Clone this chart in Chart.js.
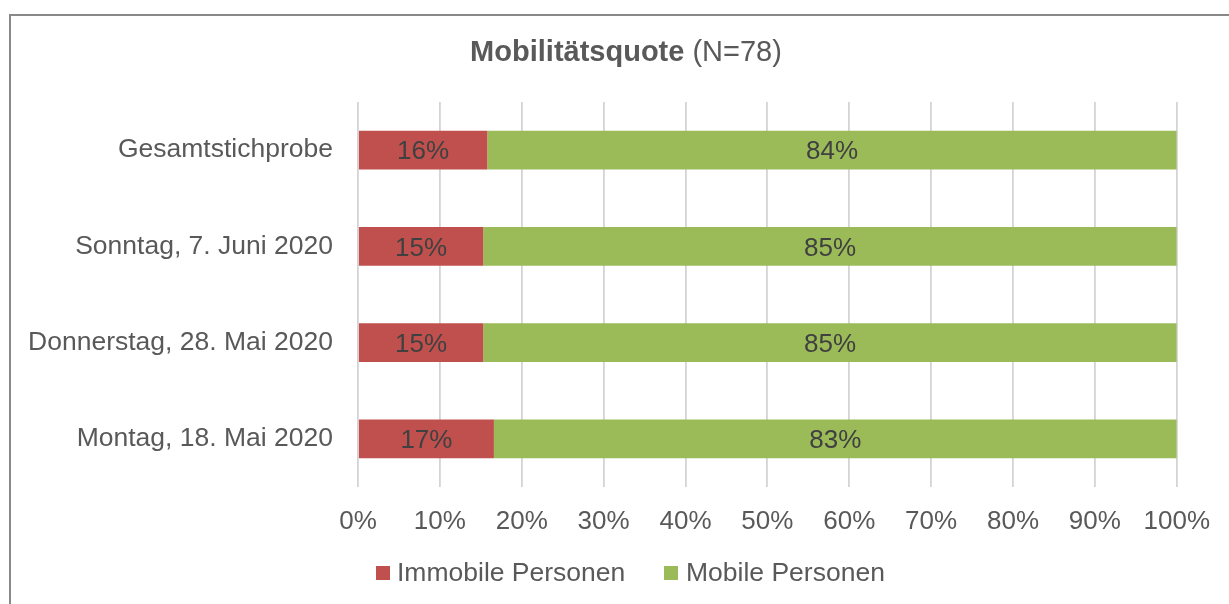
<!DOCTYPE html>
<html>
<head>
<meta charset="utf-8">
<script src="https://cdn.jsdelivr.net/npm/chart.js@4.4.1/dist/chart.umd.min.js"></script>
<style>
html,body{margin:0;padding:0;background:#fff;}
canvas{display:block;}
</style>
</head>
<body>
<canvas id="c" width="1229" height="604"></canvas>
<script>
const categories = ['Gesamtstichprobe', 'Sonntag, 7. Juni 2020', 'Donnerstag, 28. Mai 2020', 'Montag, 18. Mai 2020'];
const seriesNames = ['Immobile Personen', 'Mobile Personen'];
const immobile = [15.8, 15.3, 15.3, 16.6];
const mobile = [84.2, 84.7, 84.7, 83.4];
const immobileLabels = ['16%', '15%', '15%', '17%'];
const mobileLabels = ['84%', '85%', '85%', '83%'];
const xTickValues = [0, 10, 20, 30, 40, 50, 60, 70, 80, 90, 100];
const titleBold = 'Mobilitätsquote';
const titleNormal = ' (N=78)';

const FONT = '"Liberation Sans", Arial, sans-serif';
const TXT = '#595959';

const decor = {
  id: 'decor',
  beforeDraw(chart) {
    const ctx = chart.ctx;
    ctx.save();
    ctx.fillStyle = '#fff';
    ctx.fillRect(0, 0, chart.width, chart.height);
    ctx.strokeStyle = '#898989';
    ctx.lineWidth = 2;
    ctx.beginPath();
    ctx.moveTo(10, 604);
    ctx.lineTo(10, 15);
    ctx.lineTo(1229, 15);
    ctx.stroke();
    ctx.restore();
  },
  afterDraw(chart) {
    const ctx = chart.ctx;
    ctx.save();
    // title
    ctx.textBaseline = 'middle';
    ctx.fillStyle = TXT;
    ctx.font = 'bold 29px ' + FONT;
    const wb = ctx.measureText(titleBold).width;
    ctx.font = '29px ' + FONT;
    const wn = ctx.measureText(titleNormal).width;
    const x0 = 626 - (wb + wn) / 2;
    ctx.font = 'bold 29px ' + FONT;
    ctx.textAlign = 'left';
    ctx.fillText(titleBold, x0, 53);
    ctx.font = '29px ' + FONT;
    ctx.fillText(titleNormal, x0 + wb, 53);

    // data labels
    ctx.font = '26px ' + FONT;
    ctx.fillStyle = '#404040';
    ctx.textAlign = 'center';
    const lbls = [immobileLabels, mobileLabels];
    chart.data.datasets.forEach((ds, di) => {
      const meta = chart.getDatasetMeta(di);
      meta.data.forEach((bar, i) => {
        const cx = (bar.x + bar.base) / 2;
        ctx.fillText(lbls[di][i], cx, bar.y + 2);
      });
    });

    // legend
    ctx.font = '26.5px ' + FONT;
    const items = [
      {sx: 376, tx: 397},
      {sx: 664, tx: 686}
    ];
    chart.data.datasets.forEach((ds, di) => {
      ctx.fillStyle = ds.backgroundColor;
      ctx.fillRect(items[di].sx, 566, 14, 14);
      ctx.fillStyle = TXT;
      ctx.textAlign = 'left';
      ctx.fillText(ds.label, items[di].tx, 574);
    });
    ctx.restore();
  }
};

new Chart(document.getElementById('c'), {
  type: 'bar',
  data: {
    labels: categories,
    datasets: [
      {label: seriesNames[0], data: immobile, backgroundColor: '#C0504D', barPercentage: 0.405, categoryPercentage: 1},
      {label: seriesNames[1], data: mobile, backgroundColor: '#9BBB59', barPercentage: 0.405, categoryPercentage: 1}
    ]
  },
  options: {
    indexAxis: 'y',
    responsive: false,
    animation: false,
    devicePixelRatio: 1,
    layout: {padding: {top: 102, right: 52, bottom: 67, left: 0}},
    plugins: {legend: {display: false}, title: {display: false}, tooltip: {enabled: false}},
    scales: {
      x: {
        stacked: true,
        min: 0, max: 100,
        afterBuildTicks(scale) { scale.ticks = xTickValues.map(v => ({value: v})); },
        afterFit(scale) { scale.height = 50; },
        grid: {color: '#D4D4D4', lineWidth: 1.8, drawTicks: false},
        border: {display: false},
        ticks: {
          color: TXT, padding: 19,
          font: {family: FONT, size: 26},
          maxRotation: 0, autoSkip: false,
          callback: v => v + '%'
        }
      },
      y: {
        stacked: true,
        afterFit(scale) { scale.width = 358; },
        grid: {display: false, drawTicks: false},
        border: {display: false},
        ticks: {color: TXT, padding: 25, font: {family: FONT, size: 26.5}}
      }
    }
  },
  plugins: [decor]
});
</script>
</body>
</html>
